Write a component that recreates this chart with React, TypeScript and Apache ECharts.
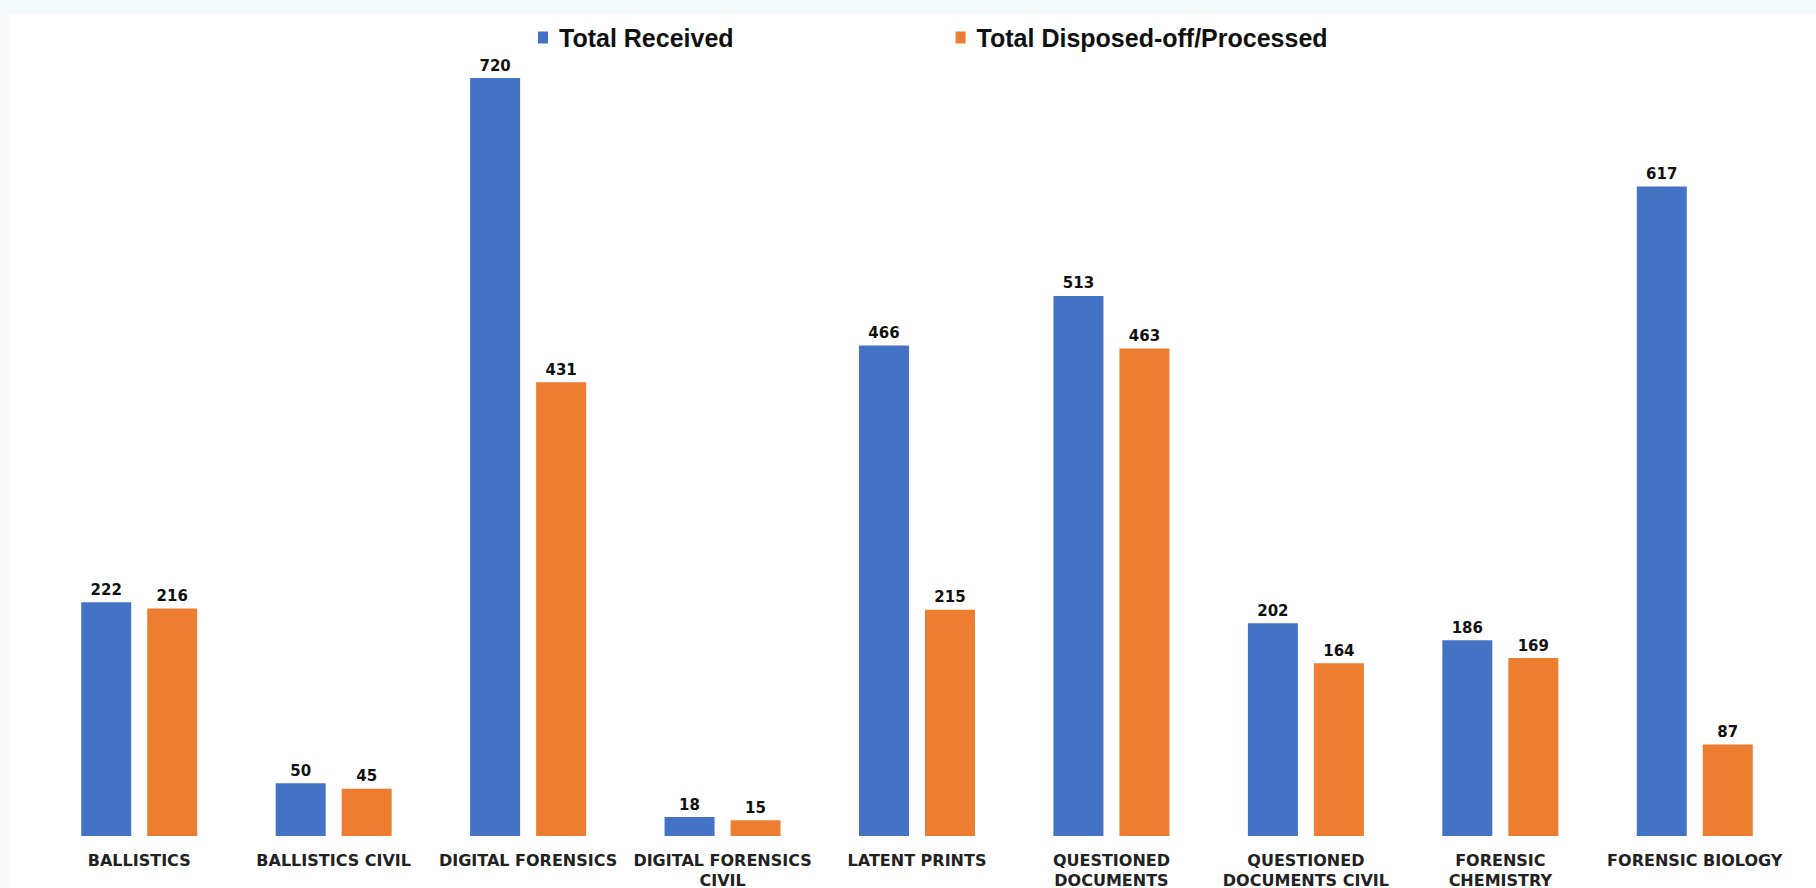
import React, { useEffect, useRef } from "react";
import * as echarts from "echarts";

const categories = [
  "BALLISTICS",
  "BALLISTICS CIVIL",
  "DIGITAL FORENSICS",
  "DIGITAL FORENSICS\nCIVIL",
  "LATENT PRINTS",
  "QUESTIONED\nDOCUMENTS",
  "QUESTIONED\nDOCUMENTS CIVIL",
  "FORENSIC\nCHEMISTRY",
  "FORENSIC BIOLOGY",
];
const seriesNames = ["Total Received", "Total Disposed-off/Processed"];
const totalReceived = [222, 50, 720, 18, 466, 513, 202, 186, 617];
const totalProcessed = [216, 45, 431, 15, 215, 463, 164, 169, 87];

export default function App() {
  const ref = useRef<HTMLDivElement>(null);
  useEffect(() => {
    if (!ref.current) return;
    const chart = echarts.init(ref.current, null, { renderer: "svg" });
    const label = {
      show: true,
      position: "top",
      distance: 5,
      fontFamily: "DejaVu Sans",
      fontWeight: "bold",
      fontSize: 15,
      color: "#111",
    };
    chart.setOption({
      animation: false,
      color: ["#4472C4", "#ED7D31"],
      legend: {
        top: 20,
        left: 533,
        itemWidth: 10,
        itemHeight: 12,
        itemGap: 222,
        icon: "rect",
        textStyle: {
          fontFamily: "Liberation Sans",
          fontWeight: "bold",
          fontSize: 25,
          color: "#111",
          padding: [0, 0, 0, 6],
        },
        data: seriesNames,
      },
      grid: {
        left: 42,
        right: 24,
        top: 78,
        bottom: 52,
        containLabel: false,
        outerBoundsMode: "none",
      },
      xAxis: {
        type: "category",
        data: categories,
        axisLine: { show: false },
        axisTick: { show: false },
        axisLabel: {
          interval: 0,
          margin: 14,
          fontFamily: "DejaVu Sans",
          fontWeight: "bold",
          fontSize: 16,
          lineHeight: 20,
          color: "#222",
        },
      },
      yAxis: {
        type: "value",
        min: 0,
        max: 720,
        show: false,
        splitLine: { show: false },
      },
      series: [
        {
          name: seriesNames[0],
          type: "bar",
          data: totalReceived,
          barWidth: 50,
          barGap: "32%",
          label,
        },
        {
          name: seriesNames[1],
          type: "bar",
          data: totalProcessed,
          barWidth: 50,
          label,
        },
      ],
    });
    return () => chart.dispose();
  }, []);
  return (
    <div
      style={{
        position: "fixed",
        left: 0,
        top: 0,
        width: 1816,
        height: 888,
        background: "#f5fafd",
      }}
    >
      <div
        style={{
          position: "absolute",
          left: 10,
          top: 14,
          right: 0,
          bottom: 0,
          background: "#ffffff",
        }}
      />
      <div
        ref={ref}
        style={{ position: "absolute", left: 0, top: 0, width: 1816, height: 888 }}
      />
    </div>
  );
}
